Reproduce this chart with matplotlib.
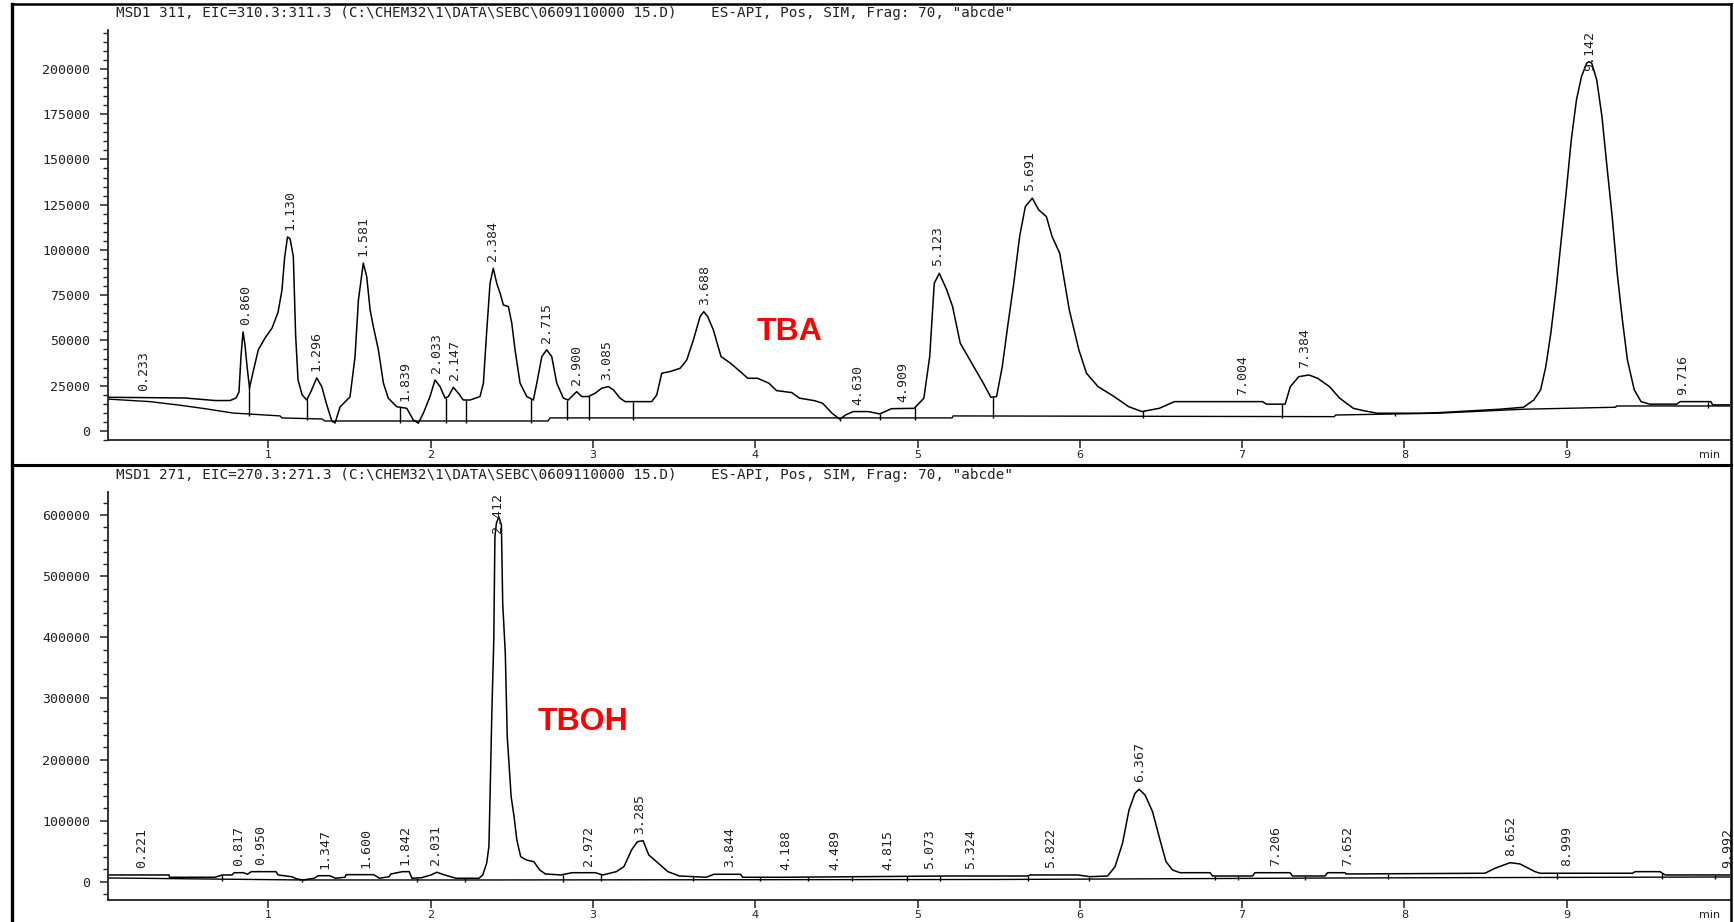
import numpy as np
import matplotlib
matplotlib.use("Agg")
import matplotlib.pyplot as plt
from matplotlib.ticker import MultipleLocator
from matplotlib.lines import Line2D

# ---- upper trace: EIC 310.3:311.3 (TBA) ----
tba_time = [0.012, 0.487, 0.672, 0.764, 0.801, 0.819, 0.832, 0.844, 0.856, 0.869,
            0.884, 0.906, 0.938, 0.980, 1.023, 1.060, 1.084, 1.100, 1.118, 1.134,
            1.154, 1.168, 1.183, 1.208, 1.237, 1.267, 1.298, 1.329, 1.360, 1.391,
            1.411, 1.442, 1.503, 1.534, 1.555, 1.585, 1.606, 1.627, 1.647, 1.678,
            1.709, 1.739, 1.791, 1.853, 1.893, 1.924, 1.955, 1.996, 2.027, 2.058,
            2.089, 2.109, 2.140, 2.171, 2.201, 2.243, 2.304, 2.325, 2.346, 2.366,
            2.386, 2.407, 2.428, 2.448, 2.479, 2.500, 2.520, 2.551, 2.592, 2.633,
            2.654, 2.685, 2.715, 2.746, 2.777, 2.818, 2.848, 2.879, 2.900, 2.931,
            2.972, 3.013, 3.054, 3.095, 3.126, 3.167, 3.198, 3.362, 3.393, 3.424,
            3.475, 3.537, 3.578, 3.619, 3.660, 3.683, 3.707, 3.742, 3.789, 3.848,
            3.919, 3.954, 4.014, 4.084, 4.131, 4.225, 4.273, 4.367, 4.415, 4.473,
            4.521, 4.556, 4.603, 4.697, 4.768, 4.839, 4.980, 5.039, 5.075, 5.103,
            5.134, 5.180, 5.216, 5.263, 5.334, 5.405, 5.452, 5.487, 5.522, 5.558,
            5.593, 5.629, 5.664, 5.707, 5.747, 5.794, 5.829, 5.876, 5.935, 5.994,
            6.041, 6.112, 6.206, 6.301, 6.383, 6.489, 6.583, 7.126, 7.150, 7.265,
            7.297, 7.349, 7.412, 7.465, 7.538, 7.601, 7.685, 7.748, 7.832, 8.105,
            8.209, 8.587, 8.734, 8.797, 8.839, 8.871, 8.902, 8.934, 8.966, 8.996,
            9.028, 9.060, 9.091, 9.123, 9.137, 9.154, 9.185, 9.217, 9.248, 9.280,
            9.311, 9.343, 9.374, 9.416, 9.458, 9.511, 9.678, 9.699, 9.888, 9.899,
            10.012]
tba_signal = [18600, 18200, 16800, 16800, 18200, 21500, 42000, 54700, 47500, 35400,
              23800, 32600, 44800, 51400, 56900, 65700, 77900, 95600, 107200, 106100,
              96300, 53000, 28200, 19900, 17100, 22700, 29300, 24500, 14400, 5500,
              4400, 13300, 18800, 40900, 72400, 92700, 85300, 66900, 57600, 44800,
              26400, 18100, 13400, 12500, 6100, 4300, 9800, 19000, 28200, 24500,
              18100, 19000, 24100, 20800, 17100, 17100, 19000, 26400, 55800, 81600,
              89900, 81600, 76100, 69600, 68700, 59500, 44800, 26400, 19000, 17100,
              26400, 41100, 44800, 41100, 26400, 18100, 17100, 19900, 21700, 19000,
              19000, 20800, 23600, 24500, 22700, 18100, 16200, 16200, 19900, 31900,
              32800, 34600, 39200, 50300, 63200, 65900, 63200, 55800, 41100, 37400,
              31900, 29100, 29100, 26400, 22300, 21200, 18100, 16700, 15300, 9800,
              6500, 8800, 10700, 10700, 9400, 12300, 12500, 18100, 41100, 81600,
              87100, 77900, 68700, 48500, 37400, 26400, 18600, 19000, 35500, 59500,
              81600, 107400, 123900, 128600, 122100, 118400, 107400, 98200, 66900, 44800,
              31900, 24500, 19300, 13400, 10700, 12500, 16200, 16200, 14800, 14800,
              24500, 30000, 30900, 29100, 24500, 18100, 12500, 11200, 9800, 9800,
              10100, 12000, 13100, 17100, 22700, 35500, 54000, 77900, 105500, 131300,
              160800, 182900, 195800, 203200, 204000, 203200, 193900, 173700, 146000, 118400,
              87100, 61300, 39200, 22700, 16200, 14800, 14800, 16200, 16200, 14400,
              14400]
tba_base_time = [0.012, 0.271, 0.456, 0.610, 0.782, 1.072, 1.084, 1.331, 1.349, 2.723,
                 2.736, 5.213, 5.219, 7.569, 7.575, 8.207, 8.734, 9.301, 9.307, 10.012]
tba_base_signal = [17600, 16200, 14200, 12300, 9900, 8300, 7200, 6600, 5500, 5500,
                   7200, 7200, 8300, 7900, 8800, 9800, 12000, 13100, 13800, 13800]
tba_drops = [0.883, 1.240, 1.811, 2.095, 2.216, 2.619, 2.843, 2.978, 3.249, 4.520,
             4.768, 4.987, 5.464, 6.391, 7.244, 7.940, 9.870]
tba_peaks = ["0.233", "0.860", "1.130", "1.296", "1.581", "1.839", "2.033", "2.147",
             "2.384", "2.715", "2.900", "3.085", "3.688", "4.630", "4.909", "5.123",
             "5.691", "7.004", "7.384", "9.142", "9.716"]

# ---- lower trace: EIC 270.3:271.3 (TBOH) ----
tboh_time = [0.022, 0.388, 0.391, 0.670, 0.718, 0.776, 0.789, 0.847, 0.871, 0.895,
             1.047, 1.060, 1.142, 1.177, 1.213, 1.283, 1.307, 1.378, 1.413, 1.472,
             1.479, 1.649, 1.685, 1.744, 1.755, 1.826, 1.868, 1.885, 1.944, 2.002,
             2.038, 2.085, 2.156, 2.298, 2.321, 2.345, 2.359, 2.365, 2.377, 2.389,
             2.396, 2.405, 2.420, 2.436, 2.444, 2.460, 2.472, 2.496, 2.514, 2.531,
             2.555, 2.590, 2.636, 2.672, 2.707, 2.802, 2.872, 3.014, 3.061, 3.144,
             3.191, 3.238, 3.274, 3.309, 3.344, 3.415, 3.462, 3.533, 3.698, 3.745,
             3.910, 3.922, 4.169, 5.184, 5.678, 5.693, 5.986, 6.063, 6.171, 6.217,
             6.263, 6.303, 6.340, 6.365, 6.402, 6.448, 6.494, 6.531, 6.571, 6.617,
             6.802, 6.818, 7.064, 7.079, 7.295, 7.310, 7.511, 7.526, 7.634, 7.640,
             8.496, 8.558, 8.651, 8.712, 8.805, 8.835, 9.405, 9.421, 9.575, 9.606,
             10.012]
tboh_signal = [11000, 11000, 7200, 7200, 11000, 11000, 14700, 14700, 12100, 16400,
               16400, 11000, 8200, 4400, 2800, 5600, 9800, 9800, 5600, 7200,
               11500, 11500, 5600, 8200, 12600, 16400, 16400, 5600, 6500, 11000,
               15400, 11000, 5600, 5600, 11000, 30100, 57300, 128300, 275700, 395700,
               564800, 586700, 597500, 583900, 455700, 373900, 237400, 139100, 106400, 68300,
               40900, 35500, 32700, 19200, 12600, 11000, 14700, 14700, 11000, 16400,
               24600, 51900, 65500, 67100, 43700, 27300, 16400, 9300, 7200, 12100,
               12100, 7200, 7200, 9300, 9300, 11000, 11000, 8200, 9300, 24600,
               62900, 117400, 144700, 151300, 141900, 114600, 68300, 32700, 19200, 14700,
               14700, 9300, 9300, 14700, 14700, 9300, 9300, 14700, 14700, 12600,
               13800, 21900, 31100, 29000, 16400, 13800, 13800, 16400, 16400, 11000,
               11000]
tboh_base_time = [0.012, 1.195, 2.304, 5.508, 7.634, 10.012]
tboh_base_signal = [6100, 2800, 2800, 3600, 6100, 7700]
tboh_drops = [0.713, 1.208, 1.916, 2.212, 2.813, 3.049, 3.616, 4.028, 4.323, 4.594,
              4.935, 5.136, 5.678, 6.057, 6.833, 6.972, 7.388, 7.896, 8.943, 9.590,
              9.914]
tboh_peaks = ["0.221", "0.817", "0.950", "1.347", "1.600", "1.842", "2.031", "2.412",
              "2.972", "3.285", "3.844", "4.188", "4.489", "4.815", "5.073", "5.324",
              "5.822", "6.367", "7.206", "7.652", "8.652", "8.999", "9.992"]

header_top = 'MSD1 311, EIC=310.3:311.3 (C:\\CHEM32\\1\\DATA\\SEBC\\0609110000 15.D)    ES-API, Pos, SIM, Frag: 70, "abcde"'
header_bot = 'MSD1 271, EIC=270.3:271.3 (C:\\CHEM32\\1\\DATA\\SEBC\\0609110000 15.D)    ES-API, Pos, SIM, Frag: 70, "abcde"'

INK = "#222222"
MONO = "DejaVu Sans Mono"

W, H = 1734, 922
fig = plt.figure(figsize=(W / 100, H / 100), dpi=100)
fig.patch.set_facecolor("white")


def px_axes(x0, y0, x1, y1):
    # rectangle given in figure pixels (origin top-left)
    return fig.add_axes([x0 / W, (H - y1) / H, (x1 - x0) / W, (y1 - y0) / H])


def style(ax, ylim, major, minor):
    ax.set_xlim(0.012, 10.006)
    ax.set_ylim(*ylim)
    for s in ("top", "right"):
        ax.spines[s].set_visible(False)
    for s in ("left", "bottom"):
        ax.spines[s].set_linewidth(1.3)
        ax.spines[s].set_color(INK)
    ax.yaxis.set_major_locator(MultipleLocator(major))
    ax.yaxis.set_minor_locator(MultipleLocator(minor))
    ax.set_xticks(range(1, 10))
    ax.set_xticklabels([str(i) for i in range(1, 10)])
    ax.tick_params(axis="x", length=6, width=1.1, pad=1.5, labelsize=8, colors=INK)
    ax.tick_params(axis="y", which="major", length=6, width=1.1, pad=7,
                   labelsize=9.5, colors=INK)
    ax.tick_params(axis="y", which="minor", length=3.5, width=1.0, colors=INK)
    for lab in ax.get_yticklabels():
        lab.set_family(MONO)
    ax.annotate("min", xy=(9.877, 0), xycoords=("data", "axes fraction"),
                xytext=(0, -7.5), textcoords="offset points", ha="center", va="top",
                fontsize=8, color=INK)


def draw_trace(ax, t, s, bt, bs, drops, peaks):
    ax.plot(bt, bs, color="black", lw=1.0)
    ax.plot(t, s, color="black", lw=1.1)
    t = np.asarray(t)
    s = np.asarray(s)
    pad = 0.004 * (ax.get_ylim()[1] - ax.get_ylim()[0])
    for d in drops:
        tr = np.interp(d, t, s)
        b = np.interp(d, bt, bs)
        ax.vlines(d, min(tr, b) - pad, max(tr, b), color="black", lw=1.0)
    ytop_px = ax.transAxes.transform((0, 1))[1]
    for p in peaks:
        rt = float(p)
        win = (t > rt - 0.04) & (t < rt + 0.04)
        top = np.interp(rt, t, s)
        if win.any():
            top = max(top, s[win].max())
        ypx = ax.transData.transform((rt, top))[1]
        if ypx + 52 > ytop_px:
            ax.annotate(p, xy=(rt, 1), xycoords=("data", "axes fraction"),
                        xytext=(0, -1), textcoords="offset points", rotation=90,
                        ha="center", va="top", fontsize=9.5, family=MONO, color=INK)
        else:
            ax.annotate(p, xy=(rt, top), xytext=(0, 5), textcoords="offset points",
                        rotation=90, ha="center", va="bottom", fontsize=9.5,
                        family=MONO, color=INK)


ax1 = px_axes(108, 30, 1730, 440)
style(ax1, (-5000, 221500), 25000, 5000)
draw_trace(ax1, tba_time, tba_signal, tba_base_time, tba_base_signal, tba_drops, tba_peaks)
ax1.text(4.214, 54400, "TBA", color="#ff0000", fontsize=23, fontweight="bold",
         family="Liberation Sans", ha="center", va="center")

ax2 = px_axes(108, 492, 1730, 900)
style(ax2, (-30000, 638000), 100000, 20000)
draw_trace(ax2, tboh_time, tboh_signal, tboh_base_time, tboh_base_signal, tboh_drops, tboh_peaks)
ax2.text(2.938, 262000, "TBOH", color="#ff0000", fontsize=23, fontweight="bold",
         family="Liberation Sans", ha="center", va="center")

# run headers
fig.text(116 / W, 1 - 13 / H, header_top, fontsize=10.3, family=MONO, color=INK,
         ha="left", va="center")
fig.text(116 / W, 1 - 475 / H, header_bot, fontsize=10.3, family=MONO, color=INK,
         ha="left", va="center")

# report frame
frame = dict(color="black", transform=fig.transFigure)
fig.add_artist(Line2D([12 / W, 12 / W], [0, 1 - 4 / H], lw=2.4, **frame))
fig.add_artist(Line2D([1731 / W, 1731 / W], [0, 1 - 4 / H], lw=1.8, **frame))
fig.add_artist(Line2D([12 / W, 1731 / W], [1 - 4 / H, 1 - 4 / H], lw=1.8, **frame))
fig.add_artist(Line2D([12 / W, 1731 / W], [1 - 465 / H, 1 - 465 / H], lw=2.2, **frame))

fig.savefig("out.png", dpi=100)
